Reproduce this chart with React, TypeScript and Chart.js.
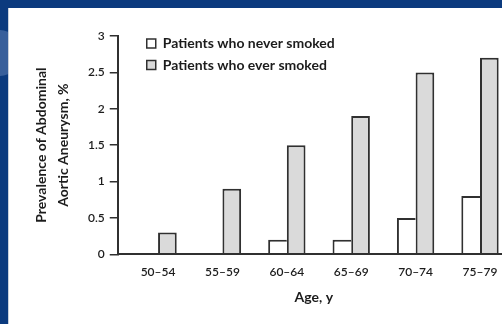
import React, { useEffect, useRef } from "react";
import { Chart, registerables } from "chart.js";

Chart.register(...registerables);

// Age bands and prevalence (%) of abdominal aortic aneurysm
const ageGroups = ["50–54", "55–59", "60–64", "65–69", "70–74", "75–79"];
const neverSmoked = [0, 0, 0.2, 0.2, 0.5, 0.8];
const everSmoked = [0.3, 0.9, 1.5, 1.9, 2.5, 2.7];
const yTickValues = [0, 0.5, 1, 1.5, 2, 2.5, 3];

const INK = "#1c1c1c";
const LINE = "#303030";
const FONT = "Lato, 'Open Sans', sans-serif";

// Nudges the legend inside the plot area, below the top tick
const legendPlacement = {
  id: "legendPlacement",
  afterLayout(chart: any) {
    const lg = chart.legend;
    if (!lg) return;
    const ca = chart.chartArea;
    const w = lg.width;
    const h = lg.height;
    lg.left = ca.left + 21.5;
    lg.top = ca.top - 7;
    lg.right = lg.left + w;
    lg.bottom = lg.top + h;
  },
};

export default function App() {
  const canvasRef = useRef<HTMLCanvasElement | null>(null);

  useEffect(() => {
    if (!canvasRef.current) return;
    const chart = new Chart(canvasRef.current, {
      type: "bar",
      data: {
        datasets: [
          {
            label: "Patients who never smoked",
            data: ageGroups.map((_, i) => ({ x: i, y: neverSmoked[i] })),
            backgroundColor: "#ffffff",
            borderColor: LINE,
            borderWidth: { top: 2, left: 2, right: 0, bottom: 0 },
            borderSkipped: "start",
          },
          {
            label: "Patients who ever smoked",
            data: ageGroups.map((_, i) => ({ x: i, y: everSmoked[i] })),
            backgroundColor: "#dadada",
            borderColor: LINE,
            borderWidth: 2,
            borderSkipped: "start",
          },
        ],
      },
      options: {
        responsive: false,
        maintainAspectRatio: false,
        animation: false,
        devicePixelRatio: 1,
        layout: { padding: { left: 22, top: 28, right: 18, bottom: 18.5 } },
        datasets: {
          bar: { categoryPercentage: 0.58, barPercentage: 1 },
        },
        plugins: {
          tooltip: { enabled: false },
          title: { display: false },
          legend: {
            display: true,
            position: "chartArea",
            align: "start",
            labels: {
              boxWidth: 9,
              boxHeight: 9,
              padding: 7.5,
              color: INK,
              font: { family: FONT, size: 14, weight: "bold" },
              generateLabels: (chart: any) =>
                Chart.defaults.plugins.legend.labels
                  .generateLabels(chart)
                  .map((item: any) => ({ ...item, lineWidth: 1.5 })),
            },
          },
        },
        scales: {
          x: {
            type: "linear",
            position: "bottom",
            offset: false,
            bounds: "data",
            min: -0.626,
            max: 5.466,
            afterBuildTicks: (scale: any) => {
              scale.ticks = ageGroups.map((_, i) => ({ value: i }));
            },
            ticks: {
              autoSkip: false,
              maxRotation: 0,
              padding: 0,
              color: INK,
              font: { family: FONT, size: 12, weight: 600 },
              callback: (v: any) => ageGroups[v] ?? "",
            },
            // invisible tick marks keep the labels clear of the axis line
            grid: {
              display: true,
              drawOnChartArea: false,
              drawTicks: true,
              tickLength: 11,
              color: "rgba(0,0,0,0)",
            },
            border: { display: true, color: LINE, width: 2, z: 1 },
            title: {
              display: true,
              text: "Age, y",
              color: INK,
              font: { family: FONT, size: 14, weight: "bold" },
              padding: { top: 9, bottom: 0 },
            },
          },
          y: {
            min: 0,
            max: 3,
            afterBuildTicks: (scale: any) => {
              scale.ticks = yTickValues.map((v) => ({ value: v }));
            },
            ticks: {
              padding: 5,
              color: INK,
              font: { family: FONT, size: 12, weight: 600 },
              callback: (v: any) => String(v),
            },
            grid: {
              display: true,
              drawOnChartArea: false,
              drawTicks: true,
              tickLength: 8,
              color: LINE,
              lineWidth: 1.5,
            },
            border: { display: true, color: LINE, width: 2, z: 1 },
            title: {
              display: true,
              text: ["Prevalence of Abdominal", "Aortic Aneurysm, %"],
              color: INK,
              font: { family: FONT, size: 14, weight: "bold", lineHeight: 1.571 },
              padding: { top: 0, bottom: 9 },
            },
          },
        },
      },
      plugins: [legendPlacement],
    } as any);
    return () => chart.destroy();
  }, []);

  return (
    <div
      style={{
        position: "fixed",
        left: 0,
        top: 0,
        width: 502,
        height: 324,
        overflow: "hidden",
        background: "#0b3a7e",
      }}
    >
      <div
        style={{
          position: "absolute",
          left: -24,
          top: 30,
          width: 46,
          height: 46,
          borderRadius: "50%",
          background: "rgba(140,165,210,0.35)",
        }}
      />
      <div
        style={{
          position: "absolute",
          left: 8,
          top: 8,
          width: 494,
          height: 316,
          overflow: "hidden",
          background: "#ffffff",
          boxShadow: "inset 1px 0 0 #c8d0dc",
        }}
      >
        <canvas ref={canvasRef} width={520} height={316} style={{ display: "block" }} />
      </div>
    </div>
  );
}
